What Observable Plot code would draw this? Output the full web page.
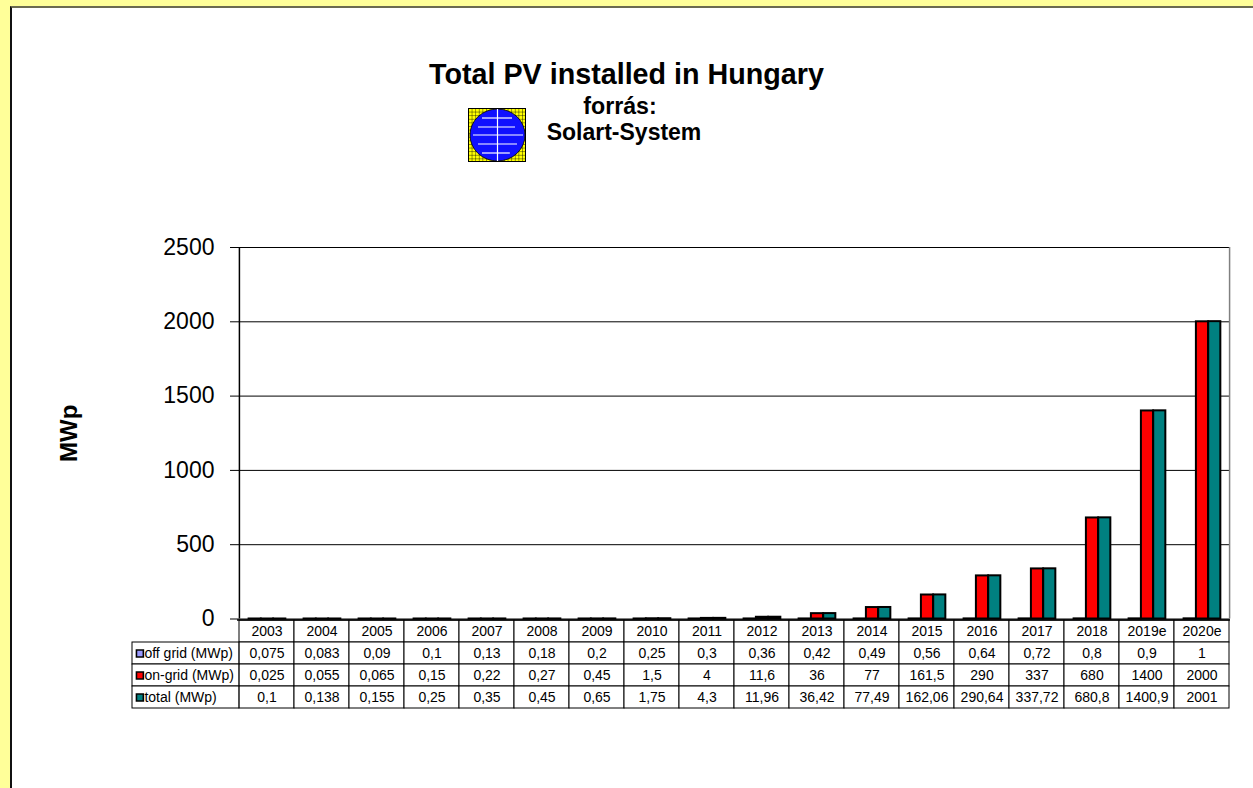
<!DOCTYPE html>
<html>
<head>
<meta charset="utf-8">
<script src="https://cdn.jsdelivr.net/npm/d3@7"></script>
<script src="https://cdn.jsdelivr.net/npm/@observablehq/plot@0.6"></script>
<style>
  html, body { margin: 0; padding: 0; background: #fff; }
  #wrap { position: relative; width: 1253px; height: 788px; background: #FFFF99; overflow: hidden;
          font-family: "Liberation Sans", Arial, sans-serif; color: #000; }
  #panel { position: absolute; left: 10px; top: 6px; width: 1243px; height: 782px; background: #fff;
           border-left: 2px solid #111; border-top: 2px solid #6b6b50; box-sizing: border-box; }
  .abs { position: absolute; white-space: nowrap; font-weight: bold; line-height: 1; }
  #chart, #table { position: absolute; left: 0; top: 0; }
</style>
</head>
<body>
<div id="wrap">
  <div id="panel"></div>
  <div class="abs" style="left:0;width:1253px;text-align:center;top:60px;font-size:28.7px">Total PV installed in Hungary</div>
  <div class="abs" style="left:320px;width:600px;text-align:center;top:95px;font-size:23.2px">forrás:</div>
  <div class="abs" style="left:324px;width:600px;text-align:center;top:121px;font-size:23px">Solart-System</div>
  <svg class="abs" style="left:468px;top:108px" width="58" height="54" viewBox="0 0 58 54">
    <defs>
      <pattern id="grid" width="3.6" height="3.6" patternUnits="userSpaceOnUse">
        <rect width="3.6" height="3.6" fill="#FFFF00"/>
        <path d="M0 0H3.6M0 0V3.6" stroke="#000" stroke-width="0.8"/>
      </pattern>
    </defs>
    <rect x="0.5" y="0.5" width="57" height="53" fill="url(#grid)" stroke="#000"/>
    <ellipse cx="29.5" cy="27" rx="27.5" ry="26" fill="#1010FF" stroke="#000" stroke-width="0.8"/>
    <g stroke="#fff" stroke-width="1.2">
      <line x1="29.5" y1="1" x2="29.5" y2="53"/>
      <line x1="14" y1="10" x2="44" y2="10"/>
      <line x1="10" y1="19" x2="47" y2="19"/>
      <line x1="5" y1="27" x2="55" y2="27"/>
      <line x1="10" y1="36" x2="49" y2="36"/>
      <line x1="14" y1="45" x2="42" y2="45"/>
    </g>
  </svg>
</div>
<script>
// ---- data ----
const years = ["2003","2004","2005","2006","2007","2008","2009","2010","2011","2012","2013","2014","2015","2016","2017","2018","2019e","2020e"];
const offGrid = [0.075,0.083,0.09,0.1,0.13,0.18,0.2,0.25,0.3,0.36,0.42,0.49,0.56,0.64,0.72,0.8,0.9,1];
const onGrid = [0.025,0.055,0.065,0.15,0.22,0.27,0.45,1.5,4,11.6,36,77,161.5,290,337,680,1400,2000];
const total = [0.1,0.138,0.155,0.25,0.35,0.45,0.65,1.75,4.3,11.96,36.42,77.49,162.06,290.64,337.72,680.8,1400.9,2001];
const yTicks = [0,500,1000,1500,2000,2500];
const seriesLabels = ["off grid (MWp)","on-grid (MWp)","total (MWp)"];
const seriesColors = ["#9999FF","#FF0000","#008080"];

// ---- layout ----
const W = 1253, mL = 237, mR = 23;
const bw = (W - mL - mR) / years.length;
const barW = 12.3, barStart = 9.6;
const font = "'Liberation Sans', Arial, sans-serif";

const rows = years.map((year, i) => ({year, off: offGrid[i], on: onGrid[i], total: total[i]}));
const keys = ["off","on","total"];

const barMarks = keys.map((k, j) => Plot.barY(rows, {
  x: "year", y: k, fill: seriesColors[j], stroke: "#000", strokeWidth: 2,
  insetLeft: barStart + j * barW, insetRight: bw - barStart - (j + 1) * barW
}));

const chart = Plot.plot({
  width: W, height: 640,
  marginTop: 247, marginBottom: 21.5, marginLeft: mL, marginRight: mR,
  x: {type: "band", domain: years, padding: 0, axis: null},
  y: {domain: [0, 2500], axis: null},
  style: {background: "transparent", overflow: "visible", fontFamily: font, fontSize: "23px", color: "#000"},
  marks: [
    Plot.ruleY(yTicks, {stroke: "#000", strokeWidth: 1}),
    Plot.ruleX([years[years.length - 1]], {dx: bw / 2, stroke: "#808080", strokeWidth: 1.5}),
    Plot.ruleX([years[0]], {dx: -bw / 2, stroke: "#000", strokeWidth: 1.5}),
    ...barMarks,
    Plot.axisY({ticks: yTicks, tickSize: 7, tickPadding: 16, fontSize: 23, tickFormat: d => String(d), label: null, stroke: "#000"}),
    Plot.text(["MWp"], {text: d => d, frameAnchor: "left", textAnchor: "middle", dx: -168, rotate: -90, fontSize: 24, fontWeight: "bold", fill: "#000"})
  ]
});
chart.id = "chart";

// ---- data table ----
const rowKeys = ["year", "off", "on", "total"];
const fmt = v => String(v).replace(".", ",");
const cells = [];
years.forEach((year, i) => {
  cells.push({year, row: "year", text: year});
  cells.push({year, row: "off", text: fmt(offGrid[i])});
  cells.push({year, row: "on", text: fmt(onGrid[i])});
  cells.push({year, row: "total", text: fmt(total[i])});
});
const labelRows = keys.map((k, j) => ({row: k, label: seriesLabels[j], color: seriesColors[j]}));
const labelColW = 107;
const first = () => years[0];

const table = Plot.plot({
  width: W, height: 788,
  marginTop: 618.5, marginBottom: 78, marginLeft: mL, marginRight: mR,
  x: {type: "band", domain: years, padding: 0, axis: null},
  y: {type: "band", domain: rowKeys, padding: 0, axis: null},
  style: {background: "transparent", overflow: "visible", fontFamily: font, fontSize: "14px", color: "#000"},
  marks: [
    Plot.cell(cells, {x: "year", y: "row", fill: "#fff", stroke: "#000", strokeWidth: 1}),
    Plot.text(cells, {x: "year", y: "row", text: "text", fontSize: 14, fill: "#000"}),
    Plot.cell(labelRows, {x: first, y: "row", dx: -bw, insetLeft: -(labelColW - bw), fill: "#fff", stroke: "#000", strokeWidth: 1}),
    Plot.dot(labelRows, {x: first, y: "row", dx: -bw / 2 - labelColW + 7.5, symbol: "square", r: 3.9, fill: "color", stroke: "#000", strokeWidth: 1.6}),
    Plot.text(labelRows, {x: first, y: "row", dx: -bw / 2 - labelColW + 12, text: "label", textAnchor: "start", fontSize: 14, fill: "#000"}),
    Plot.ruleY(["year"], {dy: -11.4, stroke: "#000", strokeWidth: 1.5})
  ]
});
table.id = "table";

const wrap = document.getElementById("wrap");
wrap.appendChild(table);
wrap.appendChild(chart);
</script>
</body>
</html>
